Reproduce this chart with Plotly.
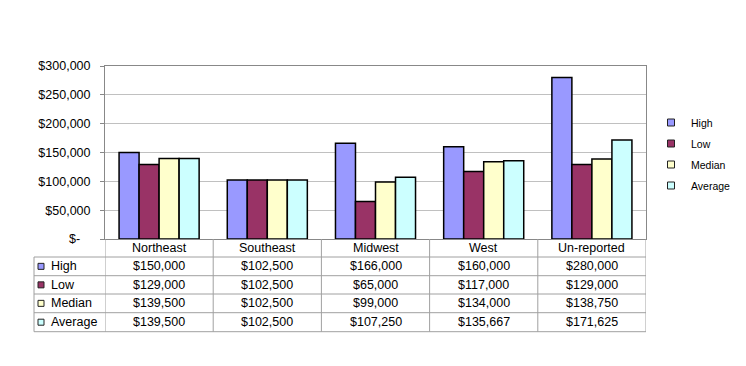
import plotly.graph_objects as go

categories = ["Northeast", "Southeast", "Midwest", "West", "Un-reported"]
series_names = ["High", "Low", "Median", "Average"]
high = [150000, 102500, 166000, 160000, 280000]
low = [129000, 102500, 65000, 117000, 129000]
median = [139500, 102500, 99000, 134000, 138750]
average = [139500, 102500, 107250, 135667, 171625]
y_tick_vals = [0, 50000, 100000, 150000, 200000, 250000, 300000]
y_tick_text = ["$-\u00a0\u00a0\u00a0", "$50,000", "$100,000", "$150,000", "$200,000", "$250,000", "$300,000"]

series_values = [high, low, median, average]
colors = ["#9999FF", "#993366", "#FFFFCC", "#CCFFFF"]

W, H = 746, 366
FONT = "Arial, Liberation Sans, sans-serif"


def px(x):
    return x / W


def py(y):
    return 1 - y / H


plot_left, plot_right, plot_top, plot_bottom = 105, 646, 66, 239
table_left = 34
row_lines = [257, 275.7, 294, 312.7, 331.7]
header_center = (plot_bottom + row_lines[0]) / 2

fig = go.Figure()
for name, vals, col in zip(series_names, series_values, colors):
    fig.add_trace(go.Bar(
        x=categories, y=vals, name=name, showlegend=False,
        marker=dict(color=col, line=dict(color="#000000", width=1.5)),
        hoverinfo="y",
    ))
for name, col in zip(series_names, colors):
    fig.add_trace(go.Scatter(
        x=[None], y=[None], mode="markers", name=name, legendgroup=name,
        marker=dict(symbol="square", size=7, color=col, line=dict(color="#222222", width=1)),
    ))

annotations = []
shapes = []
cell_font = dict(size=12.5, color="#000", family=FONT)
for c in categories:
    annotations.append(dict(x=c, xref="x", y=py(header_center), yref="paper", text=c,
                            xanchor="center", yanchor="middle",
                            showarrow=False, font=cell_font))
for r, (name, vals, col) in enumerate(zip(series_names, series_values, colors)):
    yc = (row_lines[r] + row_lines[r + 1]) / 2
    for c, v in zip(categories, vals):
        annotations.append(dict(x=c, xref="x", y=py(yc), yref="paper", text=f"${v:,}",
                                xanchor="center", yanchor="middle",
                                showarrow=False, font=cell_font))
    annotations.append(dict(x=px(49), xref="paper", xanchor="left", y=py(yc), yref="paper",
                            yanchor="middle", text=name, showarrow=False, font=cell_font))
    shapes.append(dict(type="rect", xref="paper", yref="paper", x0=px(38), x1=px(44),
                       y0=py(yc + 3), y1=py(yc - 3), fillcolor=col,
                       line=dict(color="#222222", width=1)))

grid_col = "#A0A0A0"
for yl in row_lines:
    shapes.append(dict(type="line", xref="paper", yref="paper", x0=px(table_left), x1=px(plot_right),
                       y0=py(yl), y1=py(yl), line=dict(color=grid_col, width=1)))
shapes.append(dict(type="line", xref="paper", yref="paper", x0=px(table_left), x1=px(table_left),
                   y0=py(row_lines[0]), y1=py(row_lines[-1]), line=dict(color=grid_col, width=1)))
for i in range(len(categories) + 1):
    shapes.append(dict(type="line", xref="x", yref="paper", x0=i - 0.5, x1=i - 0.5,
                       y0=py(plot_bottom), y1=py(row_lines[-1]), line=dict(color=grid_col, width=1)))

fig.update_layout(
    width=W, height=H, autosize=False,
    margin=dict(l=0, r=0, t=0, b=0, autoexpand=False),
    paper_bgcolor="white", plot_bgcolor="white",
    barmode="group", bargap=0.26, bargroupgap=0,
    font=dict(family=FONT, color="#000"),
    xaxis=dict(domain=[px(plot_left), px(plot_right)], showticklabels=False, ticks="",
               showgrid=False, showline=True, linecolor="#888888", linewidth=1, mirror=True,
               range=[-0.5, len(categories) - 0.5], automargin=False),
    yaxis=dict(domain=[py(plot_bottom), py(plot_top)], range=[0, 300000],
               tickvals=y_tick_vals, ticktext=y_tick_text, ticks="outside", ticklen=4,
               tickcolor="#888888", showgrid=True, gridcolor="#C0C0C0", gridwidth=1,
               showline=True, linecolor="#888888", linewidth=1, mirror=True,
               zeroline=False, tickfont=dict(size=12.5, color="#000", family=FONT),
               ticklabelstandoff=7, automargin=False),
    legend=dict(x=px(651), y=py(108), xanchor="left", yanchor="top",
                font=dict(size=10.5, color="#000", family=FONT), tracegroupgap=2,
                bgcolor="rgba(0,0,0,0)"),
    annotations=annotations, shapes=shapes,
)

fig.write_html("out.html", config={"displayModeBar": False},
               post_script="document.body.style.margin='0px';")
